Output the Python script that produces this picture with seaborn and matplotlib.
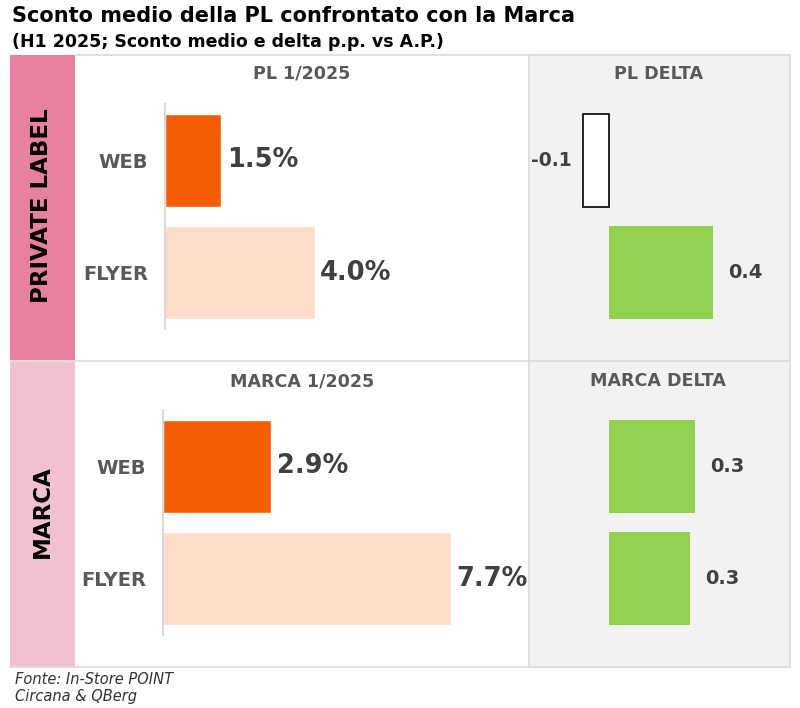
import matplotlib
matplotlib.use('Agg')
import matplotlib.pyplot as plt
import seaborn as sns
import pandas as pd
from matplotlib.patches import Rectangle
from matplotlib.lines import Line2D

# ---------------- data ----------------
channels = ['WEB', 'FLYER']
pl_values = [1.5, 4.0]
marca_values = [2.9, 7.7]
pl_delta = [-0.1, 0.4]
marca_delta = [0.33, 0.31]

title = 'Sconto medio della PL confrontato con la Marca'
subtitle = '(H1 2025; Sconto medio e delta p.p. vs A.P.)'
row_labels = ['PRIVATE LABEL', 'MARCA']
panel_titles = [['PL 1/2025', 'PL DELTA'], ['MARCA 1/2025', 'MARCA DELTA']]
source = ['Fonte: In-Store POINT', 'Circana & QBerg']

# ---------------- style ----------------
sns.set_theme(style='white')
FONT = 'DejaVu Sans'
plt.rcParams['font.family'] = [FONT]

ORANGE = '#F45E02'
PEACH = '#FDDCCA'
GREEN = '#92D050'
GRAY_BG = '#F2F2F2'
PINK_DARK = '#E6819E'
PINK_LIGHT = '#F2C0D3'
LINE = '#D9D9D9'
TXT = '#404040'
TXT2 = '#595959'

W, H = 800, 708
fig = plt.figure(figsize=(W / 100, H / 100), dpi=100)
fig.patch.set_facecolor('white')


def add_ax(x0, y0, x1, y1):
    ax = fig.add_axes([x0 / W, 1 - y1 / H, (x1 - x0) / W, (y1 - y0) / H])
    ax.patch.set_alpha(0)
    return ax


def rect(x0, y0, x1, y1, color):
    fig.add_artist(Rectangle((x0 / W, 1 - y1 / H), (x1 - x0) / W, (y1 - y0) / H,
                             transform=fig.transFigure, facecolor=color,
                             edgecolor='none', zorder=0))


def hline(x0, x1, y):
    fig.add_artist(Line2D([x0 / W, x1 / W], [1 - y / H, 1 - y / H],
                          transform=fig.transFigure, color=LINE, lw=1.2, zorder=1))


def vline(x, y0, y1):
    fig.add_artist(Line2D([x / W, x / W], [1 - y0 / H, 1 - y1 / H],
                          transform=fig.transFigure, color=LINE, lw=1.2, zorder=1))


def ftext(x, y, s, **kw):
    fig.text(x / W, 1 - y / H, s, **kw)


# backgrounds
rect(10, 55, 75, 360, PINK_DARK)
rect(10, 362, 75, 667, PINK_LIGHT)
rect(530, 55, 790, 667, GRAY_BG)
hline(75, 790, 55)
hline(10, 790, 361)
hline(10, 790, 667)
vline(529, 55, 667)
vline(790, 55, 667)

# titles
ftext(12, 16, title, fontsize=15, fontweight='bold', color='black', va='center', ha='left')
ftext(12, 42, subtitle, fontsize=12.5, fontweight='bold', color='black', va='center', ha='left')

# row labels
ftext(42, 206, row_labels[0], fontsize=16.5, fontweight='bold', color='black',
      rotation=90, ha='center', va='center')
ftext(42, 512, row_labels[1], fontsize=16.5, fontweight='bold', color='black',
      rotation=90, ha='center', va='center')

# panel titles
for r, yy in enumerate([74, 381]):
    ftext(302, yy, panel_titles[r][0], fontsize=12.6, fontweight='bold', color=TXT2,
          ha='center', va='center')
    ftext(658, yy, panel_titles[r][1], fontsize=12.6, fontweight='bold', color=TXT2,
          ha='center', va='center')

# source
ftext(15, 679, source[0], fontsize=10.5, style='italic', color='#333333', va='center')
ftext(15, 697, source[1], fontsize=10.5, style='italic', color='#333333', va='center')

PX_PER_UNIT = 37.4
DELTA_PX = 260


def main_panel(values, x_axis, y0, y1):
    ax = add_ax(x_axis, y0, 527, y1)
    df = pd.DataFrame({'channel': channels, 'value': values})
    sns.barplot(data=df, x='value', y='channel', hue='channel', order=channels,
                hue_order=channels, palette=[ORANGE, PEACH], orient='h', width=0.83,
                ax=ax, legend=False, saturation=1)
    ax.set_xlim(0, (527 - x_axis) / PX_PER_UNIT)
    ax.set_ylim(1.5, -0.5)
    for s in ['top', 'right', 'bottom']:
        ax.spines[s].set_visible(False)
    ax.spines['left'].set_color(LINE)
    ax.spines['left'].set_linewidth(1.5)
    ax.set_xticks([])
    ax.set_xlabel('')
    ax.set_ylabel('')
    ax.tick_params(axis='y', length=0, pad=12)
    for lab in ax.get_yticklabels():
        lab.set_fontsize(14)
        lab.set_fontweight('bold')
        lab.set_color(TXT2)
    for i, v in enumerate(values):
        ax.annotate(f'{v:.1f}%', xy=(v, i), xytext=(4, 0), textcoords='offset points',
                    ha='left', va='center', fontsize=18.5, fontweight='bold', color=TXT,
                    annotation_clip=False)
    return ax


def delta_panel(values, y0, y1):
    x0, x1, zero = 531, 789, 609
    ax = add_ax(x0, y0, x1, y1)
    df = pd.DataFrame({'channel': channels, 'value': values})
    colors = ['white' if v < 0 else GREEN for v in values]
    sns.barplot(data=df, x='value', y='channel', hue='channel', order=channels,
                hue_order=channels, palette=colors, orient='h', width=0.83,
                ax=ax, legend=False, saturation=1)
    ax.set_xlim((x0 - zero) / DELTA_PX, (x1 - zero) / DELTA_PX)
    ax.set_ylim(1.5, -0.5)
    for p in ax.patches:
        if p.get_width() < 0:
            p.set_edgecolor('black')
            p.set_linewidth(1.2)
        else:
            p.set_edgecolor('none')
    for s in ax.spines.values():
        s.set_visible(False)
    ax.set_xticks([])
    ax.set_yticks([])
    ax.set_xlabel('')
    ax.set_ylabel('')
    for i, v in enumerate(values):
        if v < 0:
            ax.annotate(f'{v:.1f}', xy=(v, i), xytext=(-8, 0), textcoords='offset points',
                        ha='right', va='center', fontsize=13.5, fontweight='bold', color=TXT,
                        annotation_clip=False)
        else:
            ax.annotate(f'{v:.1f}', xy=(v, i), xytext=(11, 0), textcoords='offset points',
                        ha='left', va='center', fontsize=14, fontweight='bold', color=TXT,
                        annotation_clip=False)
    return ax


main_panel(pl_values, 165, 104, 329)
delta_panel(pl_delta, 104, 329)
main_panel(marca_values, 163, 410, 635)
delta_panel(marca_delta, 410, 635)

fig.savefig('out.png', dpi=100, facecolor='white')
